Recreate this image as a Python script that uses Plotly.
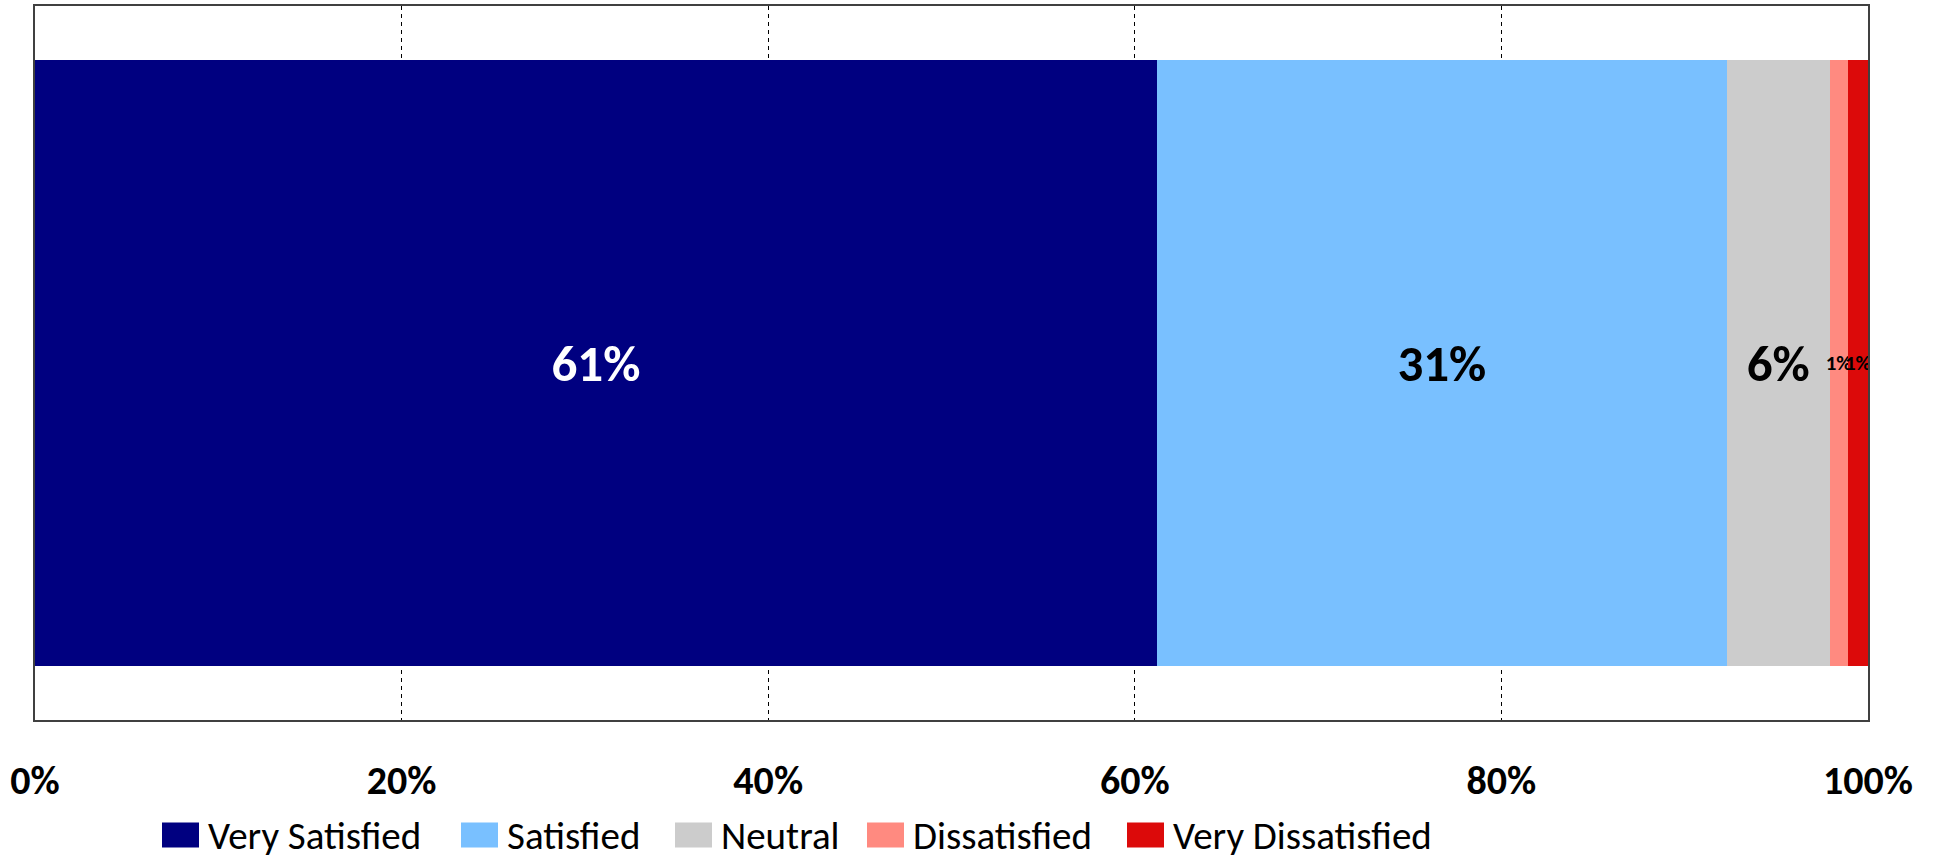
import plotly.graph_objects as go

# Survey response shares (percent of respondents)
categories = ["Very Satisfied", "Satisfied", "Neutral", "Dissatisfied", "Very Dissatisfied"]
shares = [61.2, 31.1, 5.6, 1.0, 1.1]
colors = ["#000080", "#79C0FF", "#CCCCCC", "#FF8A80", "#DC0A0A"]
label_colors = ["white", "black", "black", "black", "black"]
label_sizes = [51, 51, 51, 21, 21]
tick_values = [0, 20, 40, 60, 80, 100]
tick_labels = ["0%", "20%", "40%", "60%", "80%", "100%"]

FONT = "Carlito, Lato, sans-serif"

W, H = 1942, 858
ML, MR, MT, MB = 35, 74, 6, 138
PW, PH = W - ML - MR, H - MT - MB


def px_to_paper(px, py):
    return (px - ML) / PW, (H - MB - py) / PH


fig = go.Figure()
for name, val, col, tcol, tsize in zip(categories, shares, colors, label_colors, label_sizes):
    fig.add_trace(go.Bar(
        y=[""], x=[val], name=name, orientation="h",
        marker=dict(color=col, line=dict(width=0)),
        texttemplate="%{x:.0f}%", textposition="inside", textangle=0,
        insidetextanchor="middle", constraintext="none",
        textfont=dict(color=tcol, size=tsize, family=FONT, weight="bold"),
        hoverinfo="skip", showlegend=False,
    ))

# Legend row: square swatch followed by the category name
legend_left_px = [162, 461, 675, 867, 1127]
swatch_w, swatch_h, legend_cy = 37, 25, 835
shapes = []
annotations = []
for name, col, lx in zip(categories, colors, legend_left_px):
    x0, y0 = px_to_paper(lx, legend_cy + swatch_h / 2)
    x1, y1 = px_to_paper(lx + swatch_w, legend_cy - swatch_h / 2)
    shapes.append(dict(type="rect", xref="paper", yref="paper", x0=x0, x1=x1, y0=y0, y1=y1,
                       fillcolor=col, line=dict(width=0), layer="above"))
    tx, ty = px_to_paper(lx + swatch_w + 7, legend_cy)
    annotations.append(dict(text=name, xref="paper", yref="paper", x=tx, y=ty,
                            xanchor="left", yanchor="middle", showarrow=False,
                            font=dict(size=39, family=FONT, color="black")))

fig.update_layout(
    barmode="stack", bargap=0.15,
    width=W, height=H,
    margin=dict(l=ML, r=MR, t=MT, b=MB, autoexpand=False),
    paper_bgcolor="white", plot_bgcolor="white",
    font=dict(family=FONT, color="black"),
    showlegend=False,
    shapes=shapes, annotations=annotations,
    xaxis=dict(range=[0, 100], tickvals=tick_values, ticktext=tick_labels,
               tickfont=dict(size=40, family=FONT, weight="bold"),
               ticklabelstandoff=24, automargin=False,
               showgrid=True, gridcolor="black", griddash="4px,4px", gridwidth=1,
               zeroline=False, showline=True, linecolor="#404040", linewidth=2, mirror=True,
               fixedrange=True),
    yaxis=dict(showticklabels=False, showgrid=False, zeroline=False, automargin=False,
               showline=True, linecolor="#404040", linewidth=2, mirror=True,
               range=[-0.5, 0.5], fixedrange=True),
)

fig.write_html("out.html")
